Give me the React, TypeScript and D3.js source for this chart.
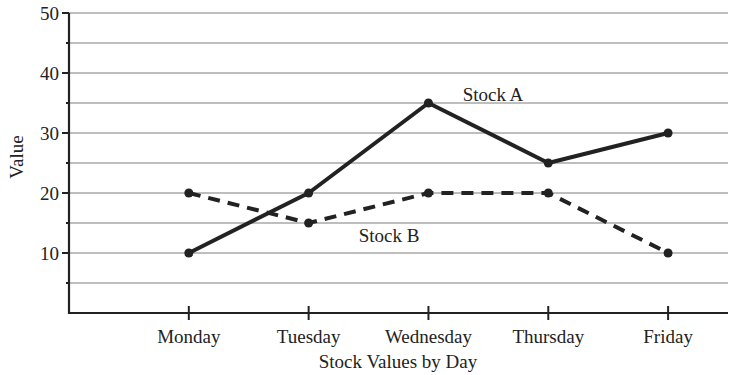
import React from "react";
import * as d3 from "d3";

const days = ["Monday", "Tuesday", "Wednesday", "Thursday", "Friday"];
const stockA = [10, 20, 35, 25, 30];
const stockB = [20, 15, 20, 20, 10];
const yTicks = [10, 20, 30, 40, 50];
const gridValues = [5, 10, 15, 20, 25, 30, 35, 40, 45, 50];

const W = 746, H = 375;
const left = 69, right = 728, top = 13, bottom = 313;
const font = "'Liberation Serif', 'Times New Roman', serif";

export default function App() {
  const x = d3.scaleLinear().domain([0, 5.5]).range([left, right]);
  const y = d3.scaleLinear().domain([0, 50]).range([bottom, top]);
  const xi = (i: number) => x(i + 1);
  const line = d3.line<number>().x((_, i) => xi(i)).y((d) => y(d));
  const col = "#222";
  return (
    <svg width={W} height={H} style={{ position: "absolute", left: 0, top: 0, background: "#fff" }}>
      {gridValues.map((v) => (
        <line key={"g" + v} x1={left} x2={right} y1={y(v)} y2={y(v)} stroke="#a8a8a8" strokeWidth={1.3} />
      ))}
      {gridValues.map((v) => (
        <line key={"t" + v} x1={v % 10 === 0 ? left - 7 : left - 3} x2={left} y1={y(v)} y2={y(v)} stroke={col} strokeWidth={2} />
      ))}
      {yTicks.map((v) => (
        <text key={"l" + v} x={left - 10} y={y(v)} dy="0.35em" textAnchor="end" fontFamily={font} fontSize={19} fill={col}>{v}</text>
      ))}
      <line x1={left} x2={left} y1={top} y2={bottom + 1} stroke={col} strokeWidth={2.2} />
      <line x1={left - 1} x2={right} y1={bottom} y2={bottom} stroke={col} strokeWidth={2.2} />
      {days.map((d, i) => (
        <g key={d}>
          <line x1={xi(i)} x2={xi(i)} y1={bottom - 7} y2={bottom + 7} stroke={col} strokeWidth={2} />
          <text x={xi(i)} y={343} textAnchor="middle" fontFamily={font} fontSize={19} fill={col}>{d}</text>
        </g>
      ))}
      <path d={line(stockB) || ""} fill="none" stroke={col} strokeWidth={4} strokeDasharray="12 8" />
      <path d={line(stockA) || ""} fill="none" stroke={col} strokeWidth={4} strokeLinejoin="round" />
      {stockA.map((v, i) => <circle key={"a" + i} cx={xi(i)} cy={y(v)} r={4.5} fill={col} />)}
      {stockB.map((v, i) => <circle key={"b" + i} cx={xi(i)} cy={y(v)} r={4.5} fill={col} />)}
      <text x={493} y={101} textAnchor="middle" fontFamily={font} fontSize={19} fill={col}>Stock A</text>
      <text x={389} y={242} textAnchor="middle" fontFamily={font} fontSize={19} fill={col}>Stock B</text>
      <text x={398} y={368} textAnchor="middle" fontFamily={font} fontSize={19} fill={col}>Stock Values by Day</text>
      <text transform="translate(23,157) rotate(-90)" textAnchor="middle" fontFamily={font} fontSize={19} fill={col}>Value</text>
    </svg>
  );
}
